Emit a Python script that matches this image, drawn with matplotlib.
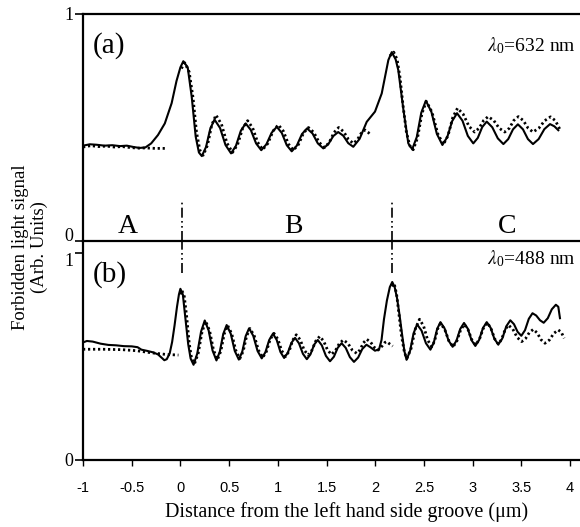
import matplotlib
matplotlib.use("Agg")
import matplotlib.pyplot as plt

plt.rcParams['font.family'] = ['Liberation Serif', 'DejaVu Serif']
plt.rcParams['mathtext.fontset'] = 'stix'

# ---------------- data ----------------
# Panel (a), lambda0 = 632 nm : solid = measured, dotted = computed
a_solid = [(-1.00,0.420),(-0.93,0.426),(-0.86,0.424),(-0.78,0.420),(-0.70,0.422),(-0.62,0.418),
           (-0.55,0.420),(-0.48,0.414),(-0.42,0.410),(-0.36,0.412),(-0.30,0.430),(-0.23,0.467),
           (-0.16,0.518),(-0.09,0.607),(-0.04,0.705),(0.00,0.765),(0.03,0.792),
           (0.075,0.765),(0.116,0.636),(0.157,0.46),(0.19,0.39),(0.22,0.374),
           (0.263,0.414),(0.307,0.495),(0.35,0.535),
           (0.407,0.498),(0.463,0.423),(0.52,0.386),
           (0.57,0.419),(0.62,0.485),(0.67,0.518),
           (0.723,0.489),(0.777,0.430),(0.83,0.400),
           (0.883,0.426),(0.937,0.477),(0.99,0.503),
           (1.041,0.476),(1.092,0.422),(1.143,0.395),
           (1.195,0.420),(1.248,0.471),(1.30,0.496),
           (1.356,0.474),(1.411,0.430),(1.467,0.408),
           (1.518,0.426),(1.569,0.462),(1.62,0.480),
           (1.672,0.464),(1.723,0.431),(1.775,0.415),
           (1.84,0.45),(1.913,0.525),(1.998,0.57),(2.067,0.65),(2.135,0.797),(2.17,0.832),
           (2.21,0.80),(2.237,0.753),(2.29,0.577),(2.34,0.43),(2.38,0.404),
           (2.427,0.458),(2.473,0.565),(2.52,0.618),
           (2.577,0.569),(2.633,0.472),(2.69,0.423),
           (2.74,0.458),(2.79,0.528),(2.84,0.563),
           (2.896,0.530),(2.951,0.463),(3.007,0.430),
           (3.053,0.454),(3.099,0.502),(3.145,0.526),
           (3.202,0.501),(3.259,0.452),(3.316,0.427),
           (3.366,0.449),(3.415,0.492),(3.465,0.514),
           (3.517,0.492),(3.568,0.449),(3.62,0.427),
           (3.678,0.449),(3.737,0.493),(3.795,0.515),
           (3.84,0.505),(3.88,0.488)]

a_dot_A = [(-1.00,0.414),(-0.92,0.420),(-0.84,0.416),(-0.76,0.418),(-0.68,0.414),(-0.60,0.416),
           (-0.52,0.412),(-0.44,0.409),(-0.36,0.410),(-0.26,0.408),(-0.16,0.408)]
a_dot_B = [(0.01,0.76),(0.045,0.785),(0.09,0.745),(0.13,0.63),(0.165,0.48),(0.20,0.40),(0.235,0.378),
           (0.278,0.422),(0.322,0.511),(0.365,0.555),
           (0.422,0.514),(0.478,0.431),(0.535,0.390),
           (0.587,0.425),(0.638,0.495),(0.69,0.530),
           (0.742,0.498),(0.793,0.435),(0.845,0.403),
           (0.898,0.430),(0.952,0.485),(1.005,0.512),
           (1.057,0.484),(1.108,0.428),(1.16,0.400),
           (1.212,0.425),(1.263,0.475),(1.315,0.500),
           (1.37,0.478),(1.425,0.434),(1.48,0.412),
           (1.528,0.434),(1.577,0.478),(1.625,0.500),
           (1.675,0.482),(1.725,0.448),(1.775,0.430),
           (1.815,0.445),(1.855,0.474),(1.895,0.489),(1.925,0.48),(1.955,0.465)]
a_dot_C = [(2.15,0.815),(2.19,0.832),(2.225,0.80),(2.255,0.72),(2.285,0.60),(2.32,0.48),(2.355,0.42),(2.39,0.402),
           (2.435,0.455),(2.48,0.562),(2.525,0.615),
           (2.583,0.568),(2.642,0.473),(2.70,0.425),
           (2.748,0.465),(2.797,0.545),(2.845,0.585),
           (2.903,0.559),(2.962,0.506),(3.02,0.480),
           (3.067,0.497),(3.113,0.531),(3.16,0.548),
           (3.217,0.531),(3.273,0.497),(3.33,0.480),
           (3.377,0.497),(3.423,0.531),(3.47,0.548),
           (3.52,0.531),(3.57,0.497),(3.62,0.480),
           (3.68,0.497),(3.74,0.530),(3.80,0.547),
           (3.85,0.530),(3.90,0.489)]

# Panel (b), lambda0 = 488 nm
b_solid = [(-1.00,0.568),(-0.96,0.575),(-0.90,0.572),(-0.82,0.562),(-0.74,0.556),(-0.66,0.554),
           (-0.58,0.550),(-0.50,0.549),(-0.44,0.545),(-0.40,0.533),(-0.34,0.527),(-0.28,0.520),
           (-0.23,0.510),(-0.19,0.493),(-0.165,0.482),(-0.14,0.487),(-0.11,0.515),(-0.085,0.57),
           (-0.06,0.65),(-0.035,0.74),(-0.015,0.80),(0.00,0.827),
           (0.025,0.80),(0.05,0.69),(0.08,0.56),(0.105,0.49),(0.135,0.460),
           (0.173,0.514),(0.212,0.62),(0.25,0.674),
           (0.29,0.626),(0.33,0.529),(0.37,0.481),
           (0.405,0.524),(0.44,0.609),(0.475,0.652),
           (0.517,0.610),(0.558,0.527),(0.60,0.485),
           (0.635,0.523),(0.67,0.598),(0.705,0.636),
           (0.748,0.60),(0.792,0.527),(0.835,0.491),
           (0.873,0.521),(0.912,0.580),(0.95,0.610),
           (0.988,0.581),(1.027,0.522),(1.065,0.493),
           (1.102,0.517),(1.14,0.566),(1.177,0.590),
           (1.217,0.564),(1.258,0.513),(1.298,0.487),
           (1.335,0.510),(1.373,0.557),(1.41,0.580),
           (1.452,0.554),(1.494,0.503),(1.536,0.477),
           (1.576,0.499),(1.615,0.542),(1.655,0.564),
           (1.697,0.542),(1.74,0.497),(1.782,0.474),
           (1.825,0.495),(1.867,0.536),(1.91,0.557),
           (1.95,0.545),(1.998,0.528),(2.04,0.535),(2.065,0.58),(2.09,0.68),(2.12,0.77),
           (2.15,0.835),(2.175,0.860),(2.20,0.835),(2.225,0.78),(2.25,0.70),(2.275,0.61),
           (2.30,0.525),(2.322,0.484),
           (2.358,0.527),(2.394,0.612),(2.43,0.655),
           (2.476,0.625),(2.521,0.564),(2.567,0.533),
           (2.601,0.566),(2.636,0.633),(2.67,0.666),
           (2.712,0.636),(2.753,0.577),(2.795,0.547),
           (2.834,0.576),(2.873,0.633),(2.912,0.662),
           (2.951,0.634),(2.989,0.579),(3.028,0.551),
           (3.067,0.58),(3.106,0.637),(3.145,0.666),
           (3.185,0.639),(3.224,0.585),(3.264,0.558),
           (3.305,0.587),(3.346,0.646),(3.387,0.675),
           (3.425,0.656),(3.462,0.619),(3.50,0.600),
           (3.538,0.627),(3.577,0.682),(3.615,0.709),
           (3.653,0.698),(3.692,0.675),(3.73,0.663),
           (3.772,0.685),(3.813,0.728),(3.855,0.750),
           (3.88,0.74),(3.897,0.685)]

b_dot_A = [(-1.00,0.535),(-0.80,0.535),(-0.60,0.533),(-0.45,0.528),(-0.30,0.518),(-0.15,0.510),(-0.02,0.507)]
b_dot_B = [(0.00,0.80),(0.015,0.82),(0.04,0.79),(0.065,0.69),(0.09,0.565),(0.115,0.49),(0.145,0.465),
           (0.183,0.516),(0.222,0.619),(0.26,0.67),
           (0.30,0.624),(0.34,0.531),(0.38,0.485),
           (0.415,0.526),(0.45,0.609),(0.485,0.650),
           (0.527,0.61),(0.568,0.53),(0.61,0.490),
           (0.645,0.526),(0.68,0.599),(0.715,0.635),
           (0.758,0.60),(0.802,0.53),(0.845,0.495),
           (0.883,0.524),(0.922,0.583),(0.96,0.612),
           (1.00,0.584),(1.04,0.528),(1.08,0.500),
           (1.117,0.526),(1.153,0.579),(1.19,0.605),
           (1.23,0.581),(1.27,0.532),(1.31,0.507),
           (1.35,0.530),(1.39,0.575),(1.43,0.597),
           (1.47,0.575),(1.51,0.532),(1.55,0.510),
           (1.591,0.528),(1.632,0.563),(1.673,0.580),
           (1.719,0.564),(1.764,0.531),(1.81,0.515),
           (1.844,0.532),(1.879,0.566),(1.913,0.583),
           (1.952,0.57),(1.991,0.544),(2.03,0.531),
           (2.07,0.55),(2.10,0.568),(2.118,0.572),(2.15,0.56),(2.18,0.55)]
b_dot_C = [(2.17,0.84),(2.195,0.853),(2.22,0.80),(2.245,0.70),(2.27,0.60),(2.30,0.52),(2.325,0.49),
           (2.368,0.538),(2.412,0.633),(2.455,0.68),
           (2.497,0.647),(2.538,0.58),(2.58,0.547),
           (2.61,0.575),(2.64,0.632),(2.67,0.66),
           (2.713,0.632),(2.757,0.575),(2.80,0.547),
           (2.838,0.574),(2.877,0.628),(2.915,0.655),
           (2.953,0.63),(2.992,0.581),(3.03,0.556),
           (3.07,0.583),(3.11,0.636),(3.15,0.663),
           (3.188,0.637),(3.226,0.586),(3.264,0.560),
           (3.298,0.583),(3.333,0.629),(3.367,0.652),
           (3.413,0.632),(3.458,0.592),(3.504,0.572),
           (3.544,0.587),(3.583,0.616),(3.623,0.631),
           (3.663,0.614),(3.703,0.581),(3.743,0.564),
           (3.789,0.58),(3.834,0.612),(3.88,0.628),
           (3.91,0.618),(3.94,0.588)]

groove_x = [0.02, 2.17]
region_labels = ["A", "B", "C"]
region_x = [-0.54, 1.16, 3.35]
xticks = [-1, -0.5, 0, 0.5, 1, 1.5, 2, 2.5, 3, 3.5, 4]
xtick_labels = ["-1", "-0.5", "0", "0.5", "1", "1.5", "2", "2.5", "3", "3.5", "4"]

# ---------------- figure ----------------
W, H = 580, 527
fig = plt.figure(figsize=(W/100, H/100), dpi=100)

left = 83/W
width = 1 - left
xlim = (-1, (W-83)/97.4 - 1)

ax_a = fig.add_axes([left, 1-241/H, width, (241-14)/H])
ax_b = fig.add_axes([left, 1-460/H, width, (460-241)/H])

def xy(pts):
    return [p[0] for p in pts], [p[1] for p in pts]

solid_kw = dict(color='black', lw=1.5, solid_joinstyle='round')
dot_kw = dict(color='black', lw=2.0, linestyle=(0, (0.8, 1.0)), dash_capstyle='butt')

ax_a.plot(*xy(a_solid), **solid_kw)
for seg in (a_dot_A, a_dot_B, a_dot_C):
    ax_a.plot(*xy(seg), **dot_kw)
ax_b.plot(*xy(b_solid), **solid_kw)
for seg in (b_dot_A, b_dot_B, b_dot_C):
    ax_b.plot(*xy(seg), **dot_kw)

ax_a.set_ylim(0, 1)
ax_b.set_ylim(0, (460-241)/207)
for ax in (ax_a, ax_b):
    ax.set_xlim(*xlim)
    ax.spines['right'].set_visible(False)
    for s in ('left', 'top', 'bottom'):
        ax.spines[s].set_linewidth(1.6)
    ax.tick_params(axis='y', direction='out', length=6, width=1.2, labelsize=13, pad=1)
    ax.set_yticks([0, 1])
    ax.set_yticklabels(["0", "1"])

ax_a.spines['bottom'].set_visible(False)
ax_a.set_xticks([])
# lift the "0" of panel (a) above the shared border, as in the reference
ax_a.yaxis.get_major_ticks()[0].label1.set_verticalalignment('baseline')
ax_b.yaxis.get_major_ticks()[1].label1.set_verticalalignment('top')

ax_b.set_xticks(xticks)
ax_b.set_xticklabels(xtick_labels, fontfamily='Liberation Sans', fontsize=10.5)
ax_b.tick_params(axis='x', direction='out', length=4, width=1.0, pad=11)

# groove markers (dash-dot)
for gx in groove_x:
    ax_a.plot([gx, gx], [0, 0.18], color='black', lw=1.2, linestyle=(0, (6, 2, 1, 2, 1, 2)))
    ax_b.plot([gx, gx], [0.905, ax_b.get_ylim()[1]], color='black', lw=1.2, linestyle=(0, (6, 2, 1, 2, 1, 2)))

for lab, lx in zip(region_labels, region_x):
    ax_a.text(lx, 0.065, lab, ha='center', va='center', fontsize=20)

ax_a.text(-0.9, 0.862, "(a)", ha='left', va='center', fontsize=21)
ax_b.text(-0.9, 0.894, "(b)", ha='left', va='center', fontsize=21)
ax_a.text(4.06, 0.862, r"$\lambda_{\mathregular{0}}$=632 nm", ha='right', va='center', fontsize=14)
ax_b.text(4.06, 0.975, r"$\lambda_{\mathregular{0}}$=488 nm", ha='right', va='center', fontsize=14)

fig.text(347/W, 1-512/H, "Distance from the left hand side groove (\u03bcm)", ha='center', va='center', fontsize=14.5)
fig.text(30/W, 1-247/H, "Forbidden light signal\n(Arb. Units)", ha='center', va='center',
         rotation=90, fontsize=13.5, linespacing=1.2)

fig.savefig("out.png", dpi=100)
